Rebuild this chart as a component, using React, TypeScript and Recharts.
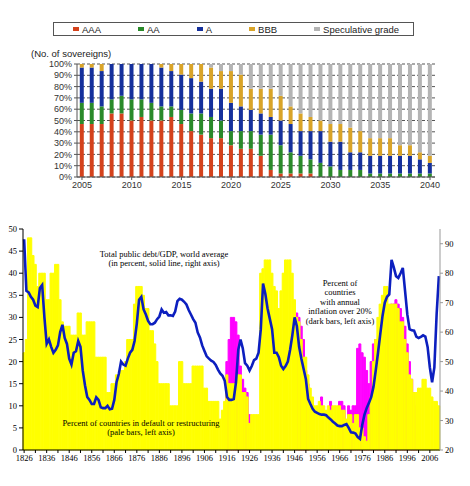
import React from "react";
import {
  BarChart,
  Bar,
  ComposedChart,
  Line,
  XAxis,
  YAxis,
  CartesianGrid,
} from "recharts";

// ---- top chart: rating distribution (No. of sovereigns) ----
const ratingYears = [
  2005, 2006, 2007, 2008, 2009, 2010, 2011, 2012, 2013, 2014, 2015, 2016,
  2017, 2018, 2019, 2020, 2021, 2022, 2023, 2024, 2025, 2026, 2027, 2028,
  2029, 2030, 2031, 2032, 2033, 2034, 2035, 2036, 2037, 2038, 2039, 2040,
];
const aaa = [15, 15, 15, 18, 18, 16, 17, 16, 16, 17, 15, 13, 12, 11, 11, 9, 8, 8, 6, 2, 1, 1, 1, 1, 0, 0, 0, 0, 0, 0, 0, 0, 0, 0, 0, 0];
const aa = [6, 6, 5, 4, 5, 6, 5, 5, 4, 3, 4, 5, 6, 6, 5, 4, 5, 5, 6, 10, 8, 6, 5, 4, 4, 3, 2, 2, 2, 1, 1, 1, 1, 1, 1, 1];
const singleA = [10, 10, 10, 10, 9, 10, 10, 11, 11, 10, 10, 10, 9, 8, 9, 8, 7, 6, 6, 5, 7, 8, 7, 8, 9, 7, 8, 5, 5, 5, 5, 5, 5, 5, 4, 3];
const bbb = [1, 1, 2, 0, 0, 0, 0, 0, 1, 2, 3, 4, 5, 6, 5, 9, 9, 6, 7, 8, 7, 5, 5, 4, 3, 5, 5, 7, 6, 5, 5, 5, 3, 3, 2, 2];
const spec = [0, 0, 0, 0, 0, 0, 0, 0, 0, 0, 0, 0, 0, 1, 2, 2, 3, 7, 7, 7, 9, 12, 14, 15, 16, 17, 17, 18, 19, 21, 21, 21, 23, 23, 25, 26];
const ratingNames = ["AAA", "AA", "A", "BBB", "Speculative grade"];
const ratingColors = ["#d4421c", "#2a8a2a", "#15309c", "#d9a428", "#b4b4b4"];
const ratingKeys = ["aaa", "aa", "a", "bbb", "spec"];
const pctTicks = [0, 0.1, 0.2, 0.3, 0.4, 0.5, 0.6, 0.7, 0.8, 0.9, 1];
const yearTicks = [2005, 2010, 2015, 2020, 2025, 2030, 2035, 2040];

const ratingData = ratingYears.map((year, i) => ({
  year,
  aaa: aaa[i],
  aa: aa[i],
  a: singleA[i],
  bbb: bbb[i],
  spec: spec[i],
}));

// ---- bottom chart: defaults, inflation, debt/GDP 1826-2010 ----
const histYears = Array.from({ length: 185 }, (_, i) => 1826 + i);
const defaultPct = [
  22, 25, 48, 48, 44, 42, 37, 40, 40, 40,
  34, 34, 40, 40, 42, 42, 34, 29, 28, 28,
  28, 26, 26, 26, 31, 31, 26, 26, 29, 29,
  29, 29, 21, 21, 21, 21, 21, 13, 13, 15,
  15, 17, 17, 18, 18, 20, 25, 25, 25, 33,
  37, 37, 37, 35, 32, 32, 27, 27, 24, 20,
  15, 15, 15, 15, 15, 10, 10, 10, 10, 20,
  20, 15, 15, 15, 15, 19, 19, 19, 19, 19,
  14, 14, 11, 11, 11, 11, 11, 7, 9, 11,
  17, 15, 15, 15, 15, 17, 17, 13, 13, 12,
  6, 8, 8, 8, 8, 40, 41, 43, 43, 43,
  40, 37, 36, 32, 36, 40, 43, 43, 43, 40,
  34, 30, 29, 25, 21, 21, 17, 14, 12, 10,
  10, 11, 10, 10, 9, 10, 9, 10, 10, 10,
  10, 9, 9, 7, 8, 8, 6, 8, 8, 5,
  5, 3, 2, 8, 12, 20, 25, 30, 33, 35,
  37, 37, 33, 33, 33, 33, 32, 29, 29, 25,
  22, 17, 16, 13, 13, 14, 14, 16, 16, 14,
  14, 12, 11, 11, 10,
];
const inflationPct = [
  0, 0, 0, 0, 0, 0, 0, 0, 0, 0,
  0, 0, 0, 0, 0, 0, 0, 0, 0, 0,
  0, 0, 0, 0, 0, 0, 0, 0, 0, 0,
  0, 0, 0, 0, 0, 0, 0, 0, 0, 0,
  0, 0, 0, 0, 0, 0, 0, 0, 0, 0,
  0, 0, 0, 0, 0, 0, 0, 0, 0, 0,
  0, 0, 0, 0, 0, 0, 0, 0, 0, 0,
  0, 0, 0, 0, 0, 0, 0, 0, 0, 0,
  0, 0, 0, 0, 0, 0, 0, 0, 0, 0,
  20, 25, 30, 30, 29, 26, 19, 16, 14, 13,
  8, 0, 0, 0, 0, 0, 0, 0, 0, 0,
  0, 0, 0, 0, 0, 0, 0, 0, 0, 0,
  0, 31, 30, 28, 25, 18, 15, 0, 0, 0,
  0, 0, 12, 0, 0, 0, 11, 0, 0, 0,
  11, 11, 10, 0, 10, 9, 10, 10, 23, 24,
  22, 21, 18, 15, 20, 24, 25, 24, 22, 0,
  30, 31, 32, 33, 33, 34, 33, 32, 30, 28,
  24, 20, 16, 13, 10, 0, 0, 0, 0, 0,
  0, 0, 0, 0, 0,
];
const debtGdp = [
  91.5, 74, 73.5, 72, 71, 69, 68.5, 75, 76, 65,
  56, 57.5, 55, 53, 54, 55.5, 60, 62.5, 58, 56,
  51, 49, 53, 53.5, 57, 55, 47, 42, 38, 37,
  35.6, 35.6, 37.9, 37, 34.5, 34.2, 34.2, 35, 33.8, 34,
  37, 43, 45.8, 50, 49, 48.6, 51, 53, 54, 57,
  63, 71, 72, 67.7, 66, 63.8, 62.7, 62.7, 63.2, 64.4,
  65.3, 67.7, 66.6, 66.8, 65.7, 65.7, 65.5, 67, 70.5, 71.3,
  71, 70.3, 69.4, 67.5, 66, 64.4, 63.2, 59.9, 58.2, 55.5,
  53.6, 51.8, 51, 50.3, 49.9, 48.9, 47.3, 46, 45.2, 43.5,
  38, 37, 37, 37.3, 43, 54, 57.5, 54.5, 49.5, 48.6,
  47, 48.5, 50.5, 51, 53, 61, 76.5, 73, 68, 64.5,
  61, 53, 53, 51.5, 48.6, 47.5, 48.5, 50, 54, 59,
  65, 62, 55, 51, 47.5, 44, 37.3, 35.6, 34, 33,
  32.6, 32.2, 32, 32, 31.8, 31, 30.4, 29.6, 29, 28.3,
  28.1, 28.1, 28.5, 28.8, 27.5, 26, 25.9, 25.6, 24.4, 23.8,
  28.5, 32, 34.3, 36, 38, 41.5, 47, 53, 59.3, 65.5,
  70, 72, 72.8, 84.5, 82, 79, 78.4, 80, 81.8, 74,
  66, 61, 60.6, 60.5, 58.5, 58, 58.4, 58.9, 58.5, 55,
  48, 43, 48, 66, 79,
];
const leftTicks = [0, 5, 10, 15, 20, 25, 30, 35, 40, 45, 50];
const rightTicks = [20, 30, 40, 50, 60, 70, 80, 90];
const histTicks = histYears.filter((y) => (y - 1826) % 5 === 0);

const histData = histYears.map((year, i) => ({
  year,
  def: defaultPct[i],
  infl: inflationPct[i],
  debt: debtGdp[i],
}));

const sans = "Arial, 'Liberation Sans', sans-serif";
const serif = "'Liberation Serif', 'Times New Roman', serif";

function Note({ x, y, lines, size = 8.5 }: { x: number; y: number; lines: string[]; size?: number }) {
  return (
    <div
      style={{
        position: "absolute",
        left: x - 110,
        top: y,
        width: 220,
        textAlign: "center",
        fontFamily: serif,
        fontSize: size,
        lineHeight: "9.4px",
        color: "#000",
      }}
    >
      {lines.map((l) => (
        <div key={l}>{l}</div>
      ))}
    </div>
  );
}

export default function App() {
  return (
    <div style={{ position: "absolute", left: 0, top: 0, width: 470, height: 486, background: "#fff" }}>
      {/* legend box */}
      <div
        style={{
          position: "absolute",
          left: 53,
          top: 22,
          width: 361,
          height: 14,
          border: "1px solid #555",
          display: "flex",
          alignItems: "center",
          gap: 37,
          paddingLeft: 19,
          boxSizing: "border-box",
          fontFamily: sans,
          fontSize: 9.5,
          color: "#222",
        }}
      >
        {ratingNames.map((n, i) => (
          <div key={n} style={{ display: "flex", alignItems: "center" }}>
            <span style={{ width: 6, height: 4, background: ratingColors[i], marginRight: 3, display: "inline-block" }} />
            {n}
          </div>
        ))}
      </div>
      <div style={{ position: "absolute", left: 31, top: 48, fontFamily: sans, fontSize: 9.5, color: "#222" }}>
        (No. of sovereigns)
      </div>

      <div style={{ position: "absolute", left: 0, top: 0 }}>
        <BarChart
          width={470}
          height={200}
          data={ratingData}
          stackOffset="expand"
          barCategoryGap="28%"
          margin={{ top: 64, right: 35, bottom: 3, left: 37 }}
        >
          <CartesianGrid vertical={false} strokeDasharray="3 2" stroke="#555" />
          <XAxis
            dataKey="year"
            ticks={yearTicks}
            interval={0}
            height={20}
            tickSize={3}
            stroke="#555"
            tick={{ fontSize: 9, fill: "#333", fontFamily: sans }}
          />
          <YAxis
            width={40}
            domain={[0, 1]}
            ticks={pctTicks}
            interval={0}
            tickSize={3}
            stroke="#555"
            tickFormatter={(v: number) => `${Math.round(v * 100)}%`}
            tick={{ fontSize: 9, fill: "#333", fontFamily: sans }}
          />
          {ratingKeys.map((k, i) => (
            <Bar key={k} dataKey={k} stackId="r" fill={ratingColors[i]} isAnimationActive={false} />
          ))}
        </BarChart>
      </div>

      <div style={{ position: "absolute", left: 0, top: 200 }}>
        <ComposedChart
          width={470}
          height={286}
          data={histData}
          barCategoryGap={0}
          barGap={0}
          margin={{ top: 29, right: 4, bottom: 16, left: 3 }}
        >
          <XAxis
            xAxisId="main"
            dataKey="year"
            ticks={histTicks}
            interval={0}
            height={20}
            tickSize={3}
            stroke="#000"
            tickFormatter={(y: number) => ((y - 1826) % 10 === 0 ? String(y) : "")}
            tick={{ fontSize: 8.5, fill: "#000", fontFamily: serif }}
          />
          <XAxis xAxisId="pink" dataKey="year" hide />
          <YAxis
            yAxisId="left"
            width={20}
            domain={[0, 50]}
            ticks={leftTicks}
            interval={0}
            tickSize={4}
            stroke="#000"
            tick={{ fontSize: 8.5, fill: "#000", fontFamily: serif }}
          />
          <YAxis
            yAxisId="right"
            orientation="right"
            width={26}
            domain={[20, 95]}
            ticks={rightTicks}
            interval={0}
            tickSize={3}
            stroke="#999"
            tick={{ fontSize: 8.5, fill: "#000", fontFamily: serif }}
          />
          <Bar xAxisId="pink" yAxisId="left" dataKey="infl" fill="#ff00ff" stroke="#ff00ff" strokeWidth={1} isAnimationActive={false} />
          <Bar xAxisId="main" yAxisId="left" dataKey="def" fill="#ffff00" stroke="#ffff00" strokeWidth={1} isAnimationActive={false} />
          <Line
            xAxisId="main"
            yAxisId="right"
            dataKey="debt"
            type="linear"
            stroke="#0c1fbf"
            strokeWidth={2.6}
            dot={false}
            isAnimationActive={false}
          />
        </ComposedChart>
      </div>

      <Note x={164} y={250} lines={["Total public debt/GDP, world average", "(in percent, solid line, right axis)"]} />
      <Note
        x={340}
        y={279}
        lines={["Percent of", "countries", "with annual", "inflation over 20%", "(dark bars, left axis)"]}
      />
      <Note x={141} y={419} lines={["Percent of countries in default or restructuring", "(pale bars, left axis)"]} />
    </div>
  );
}
